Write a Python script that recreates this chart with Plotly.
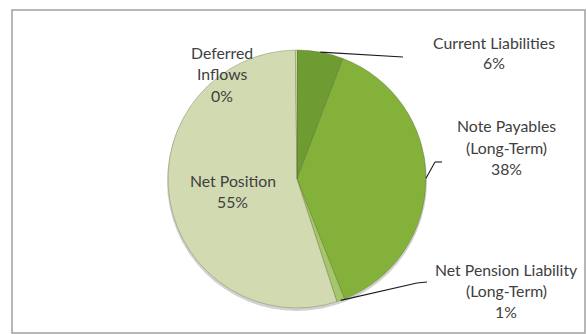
import math
import plotly.graph_objects as go

# Balance-sheet composition (share of total, %)
categories = [
    "Current Liabilities",
    "Note Payables (Long-Term)",
    "Net Pension Liability (Long-Term)",
    "Net Position",
    "Deferred Inflows",
]
label_lines = [
    ["Current Liabilities"],
    ["Note Payables", "(Long-Term)"],
    ["Net Pension Liability", "(Long-Term)"],
    ["Net Position"],
    ["Deferred", "Inflows"],
]
values = [5.8, 38.2, 1.0, 54.8, 0.2]
colors = ["#6f9b33", "#84b13a", "#a6c66c", "#d2dab2", "#e4e9cc"]

W, H = 587, 334
CX, CY, R = 297, 179, 129          # pie centre and radius in pixels
LINE_H = 21                        # label line spacing in pixels
TEXT_COLOR = "#404040"
FONT = "Lato"
FONT_SIZE = 15.8

# label block anchors: centre x and y of first line (pixels)
label_pos = [(494, 42), (506, 126), (506, 269), (233, 180), (222, 53)]
# leader line waypoints after leaving the slice edge (pixels)
leader_pts = [
    [(403, 57)],
    [(435, 162), (442, 162)],
    [(417, 283), (427, 282)],
    None,
    None,
]


def px(x, y):
    return x / W, 1 - y / H


total = sum(values)
fig = go.Figure(
    go.Pie(
        labels=categories,
        values=values,
        sort=False,
        direction="clockwise",
        rotation=0,
        textinfo="none",
        hoverinfo="label+percent",
        marker=dict(colors=colors, line=dict(color="rgba(80,100,40,0.4)", width=0.8)),
        domain=dict(
            x=[(CX - R) / W, (CX + R) / W],
            y=[1 - (CY + R) / H, 1 - (CY - R) / H],
        ),
        showlegend=False,
    )
)

shapes = [
    # chart frame
    dict(type="rect", xref="paper", yref="paper",
         x0=12 / W, y0=1 - 333 / H, x1=585 / W, y1=1 - 10 / H,
         line=dict(color="#a0a0a0", width=1.5), fillcolor="rgba(0,0,0,0)", layer="below"),
    # soft shadow under the pie
    dict(type="circle", xref="paper", yref="paper",
         x0=(CX - R - 1) / W, x1=(CX + R + 1) / W,
         y0=1 - (CY + R + 3) / H, y1=1 - (CY - R + 1) / H,
         line=dict(width=0), fillcolor="rgba(0,0,0,0.18)", layer="below"),
]

annotations = []
cum = 0.0
for i, v in enumerate(values):
    pct = round(100 * v / total)
    theta = 2 * math.pi * (cum + v / 2) / total
    cum += v
    # leader line from the slice's outer edge
    if leader_pts[i]:
        pts = [(CX + R * math.sin(theta), CY - R * math.cos(theta))] + leader_pts[i]
        for (x0, y0), (x1, y1) in zip(pts[:-1], pts[1:]):
            a0, b0 = px(x0, y0)
            a1, b1 = px(x1, y1)
            shapes.append(dict(type="line", xref="paper", yref="paper",
                               x0=a0, y0=b0, x1=a1, y1=b1,
                               line=dict(color="#1a1a1a", width=1.1)))
    lines = label_lines[i] + [f"{pct}%"]
    lx, ly = label_pos[i]
    for j, t in enumerate(lines):
        ax, ay = px(lx, ly + j * LINE_H)
        annotations.append(dict(
            x=ax, y=ay, xref="paper", yref="paper", text=t, showarrow=False,
            xanchor="center", yanchor="middle",
            font=dict(family=FONT, size=FONT_SIZE, color=TEXT_COLOR),
        ))

fig.update_layout(
    width=W, height=H,
    margin=dict(l=0, r=0, t=0, b=0),
    paper_bgcolor="white",
    plot_bgcolor="white",
    shapes=shapes,
    annotations=annotations,
)

fig.write_html("out.html")
